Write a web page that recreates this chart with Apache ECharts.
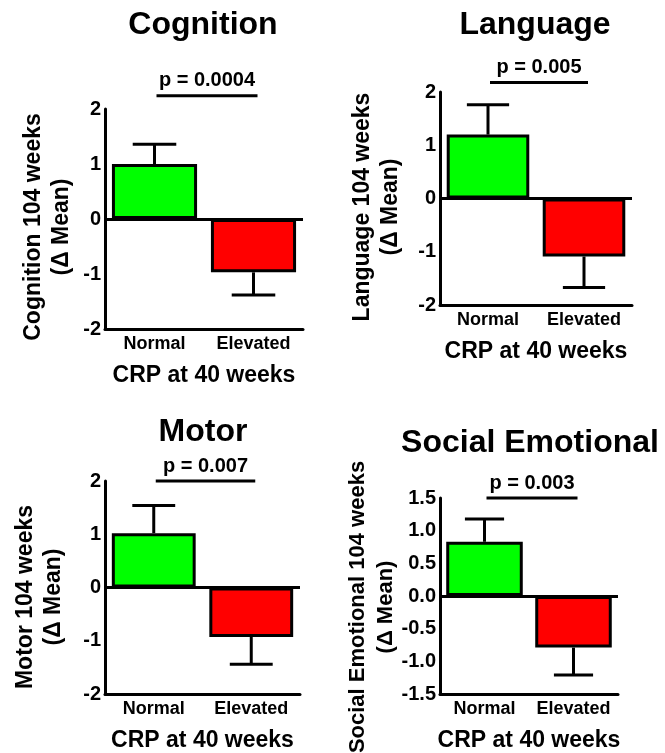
<!DOCTYPE html>
<html>
<head>
<meta charset="utf-8">
<script src="https://cdn.jsdelivr.net/npm/echarts@6/dist/echarts.min.js"></script>
<style>
html,body{margin:0;padding:0;background:#fff;}
#main{width:665px;height:753px;}
</style>
</head>
<body>
<div id="main"></div>
<script>
const categories = ['Normal', 'Elevated'];
const panelTitles = ['Cognition', 'Language', 'Motor', 'Social Emotional'];
const pValueLabels = ['p = 0.0004', 'p = 0.005', 'p = 0.007', 'p = 0.003'];
const yAxisNames = [
  'Cognition 104 weeks\n(\u0394 Mean)',
  'Language 104 weeks\n(\u0394 Mean)',
  'Motor 104 weeks\n(\u0394 Mean)',
  'Social Emotional 104 weeks\n(\u0394 Mean)'
];
const xAxisName = 'CRP at 40 weeks';

const cognitionMean = [1.00, -0.97];
const cognitionSem  = [0.36, 0.41];
const languageMean  = [1.20, -1.09];
const languageSem   = [0.56, 0.58];
const motorMean     = [1.02, -0.93];
const motorSem      = [0.52, 0.51];
const socialMean    = [0.83, -0.79];
const socialSem     = [0.35, 0.42];

const yMins      = [-2, -2, -2, -1.5];
const yMaxs      = [2, 2, 2, 1.5];
const yIntervals = [1, 1, 1, 0.5];
const yDecimals  = [0, 0, 0, 1];
const pLineLevel = [2.24, 2.18, 2.0, 1.5];

const means = [cognitionMean, languageMean, motorMean, socialMean];
const sems  = [cognitionSem, languageSem, motorSem, socialSem];

// layout (pixels)
const grids = [
  {left: 105, top: 109, width: 198, height: 220},
  {left: 440, top: 92,  width: 192, height: 213},
  {left: 105, top: 481, width: 195, height: 216},
  {left: 440, top: 498, width: 178, height: 198}
];
const titlePos = [[203, 25], [535, 25], [203, 432], [530, 443]];
const yNamePos = [[48, 227], [377, 207], [40, 597], [372, 607]];
const yNameSize = [23, 23, 23, 22];

const FONT = '"Liberation Sans", Arial, Helvetica, sans-serif';
const barColors = ['#00ff00', '#ff0000'];

const chart = echarts.init(document.getElementById('main'), null, {renderer: 'canvas'});

const xAxes = [], yAxes = [], series = [];
grids.forEach((g, i) => {
  xAxes.push({
    type: 'category', gridIndex: i, data: categories,
    axisLine: {onZero: false, lineStyle: {color: '#000', width: 3}},
    axisTick: {show: false},
    axisLabel: {interval: 0, color: '#000', fontWeight: 'bold', fontSize: 18, fontFamily: FONT, margin: 6},
    name: xAxisName, nameLocation: 'middle', nameGap: 35,
    nameTextStyle: {color: '#000', fontWeight: 'bold', fontSize: 23, fontFamily: FONT},
    splitLine: {show: false}
  });
  yAxes.push({
    type: 'value', gridIndex: i, min: yMins[i], max: yMaxs[i], interval: yIntervals[i],
    axisLine: {show: true, lineStyle: {color: '#000', width: 3}},
    axisTick: {show: false},
    splitLine: {show: false},
    axisLabel: {
      color: '#000', fontWeight: 'bold', fontSize: 20, fontFamily: FONT, margin: 4,
      formatter: (v) => v.toFixed(yDecimals[i])
    }
  });
  series.push({
    type: 'bar', xAxisIndex: i, yAxisIndex: i, barWidth: '86%',
    data: means[i].map((v, k) => ({value: v, itemStyle: {color: barColors[k]}})),
    itemStyle: {borderColor: '#000', borderWidth: 3},
    emphasis: {disabled: true},
    markLine: {
      silent: true, symbol: 'none', label: {show: false},
      lineStyle: {color: '#000', width: 3, type: 'solid'},
      data: [{yAxis: 0}]
    },
    z: 2
  });
  series.push({
    type: 'custom', xAxisIndex: i, yAxisIndex: i,
    data: means[i].map((m, k) => [k, m, m + Math.sign(m) * sems[i][k]]),
    renderItem: function (params, api) {
      const x = api.value(0), m = api.value(1), e = api.value(2);
      const p0 = api.coord([x, m]);
      const p1 = api.coord([x, e]);
      const hw = api.size([1, 0])[0] * 0.22;
      const st = {stroke: '#000', lineWidth: 3};
      return {type: 'group', children: [
        {type: 'line', shape: {x1: p0[0], y1: p0[1], x2: p1[0], y2: p1[1]}, style: st},
        {type: 'line', shape: {x1: p1[0] - hw, y1: p1[1], x2: p1[0] + hw, y2: p1[1]}, style: st}
      ]};
    },
    z: 1
  });
});

chart.setOption({
  animation: false,
  backgroundColor: '#fff',
  grid: grids,
  xAxis: xAxes,
  yAxis: yAxes,
  series: series
});

const graphics = [];
grids.forEach((g, i) => {
  graphics.push({
    type: 'text', x: titlePos[i][0], y: titlePos[i][1],
    style: {text: panelTitles[i], font: 'bold 32px ' + FONT, fill: '#000', textAlign: 'center', textVerticalAlign: 'middle'}
  });
  graphics.push({
    type: 'text', x: yNamePos[i][0], y: yNamePos[i][1], rotation: Math.PI / 2,
    style: {text: yAxisNames[i], font: 'bold ' + yNameSize[i] + 'px ' + FONT, fill: '#000', textAlign: 'center', textVerticalAlign: 'middle', lineHeight: 28}
  });
  const a = chart.convertToPixel({gridIndex: i}, [categories[0], pLineLevel[i]]);
  const b = chart.convertToPixel({gridIndex: i}, [categories[1], pLineLevel[i]]);
  const x1 = a[0] + 2, x2 = b[0] + 4;
  graphics.push({
    type: 'line', shape: {x1: x1, y1: a[1], x2: x2, y2: b[1]},
    style: {stroke: '#000', lineWidth: 3}
  });
  graphics.push({
    type: 'text', x: (x1 + x2) / 2, y: a[1] - 15,
    style: {text: pValueLabels[i], font: 'bold 20px ' + FONT, fill: '#000', textAlign: 'center', textVerticalAlign: 'middle'}
  });
});
chart.setOption({graphic: graphics});
</script>
</body>
</html>
